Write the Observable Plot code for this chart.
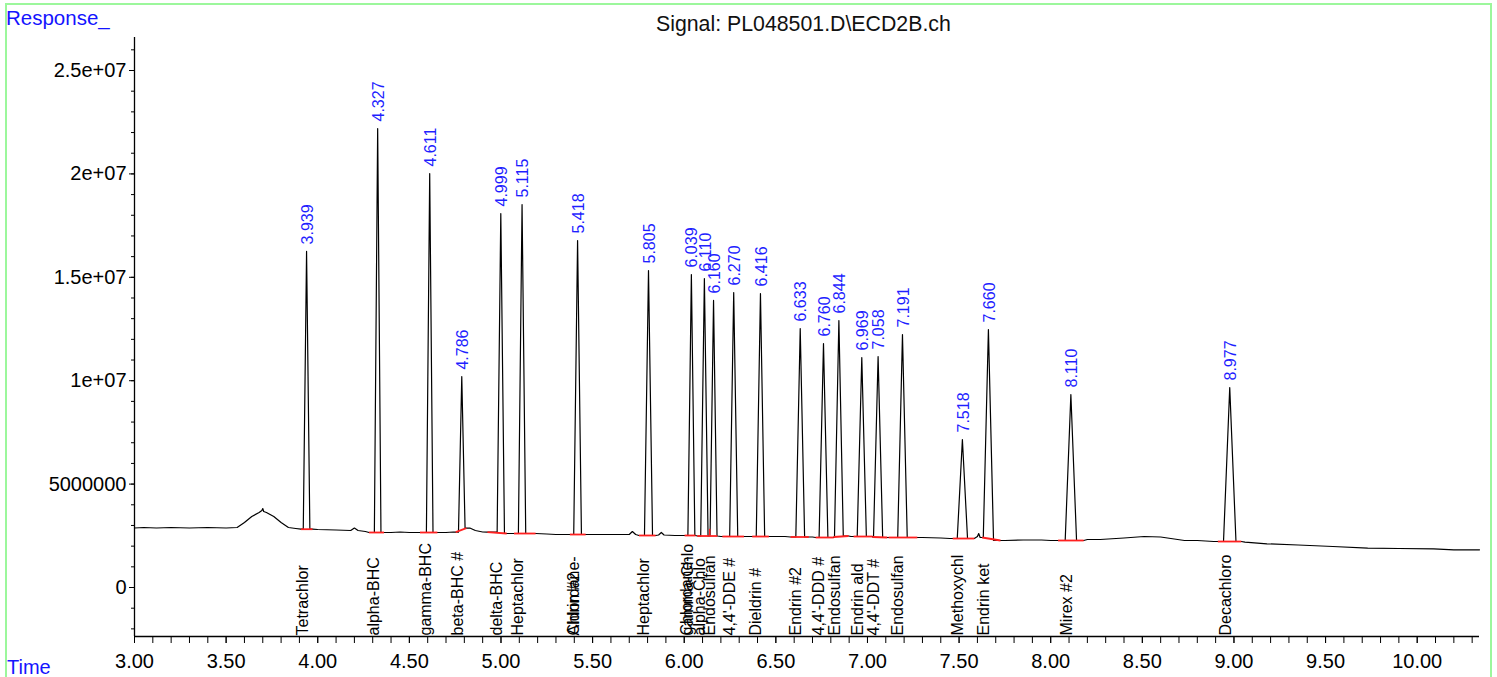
<!DOCTYPE html>
<html><head><meta charset="utf-8">
<script src="https://cdn.jsdelivr.net/npm/d3@7"></script>
<script src="https://cdn.jsdelivr.net/npm/@observablehq/plot@0.6"></script>
<style>
body{margin:0;background:#fff;font-family:Arial,"Liberation Sans",sans-serif;}
#wrap{position:relative;width:1497px;height:677px;overflow:hidden;}
#chart{position:absolute;left:0;top:0;}
#frame{position:absolute;left:5px;top:3px;width:1483px;height:700px;border:2px solid #9cf79c;border-bottom:none;z-index:2;}
.lbl{position:absolute;font-size:20px;line-height:20px;white-space:nowrap;z-index:3;}
#resp{left:6px;top:8px;color:#1414ff;font-size:20.5px;}
#time{left:7px;top:657px;color:#1414ff;}
#title{left:656px;top:14px;color:#111;font-size:21.3px;}
</style></head><body>
<div id="wrap">
  <div id="chart"></div>
  <div id="frame"></div>
  <div id="resp" class="lbl">Response_</div>
  <div id="title" class="lbl">Signal: PL048501.D\ECD2B.ch</div>
  <div id="time" class="lbl">Time</div>
</div>
<script>
// ---- data ----
const peakTimes = [3.939, 4.327, 4.611, 4.786, 4.999, 5.115, 5.418, 5.805, 6.039, 6.110, 6.160, 6.270, 6.416, 6.633, 6.760, 6.844, 6.969, 7.058, 7.191, 7.518, 7.660, 8.110, 8.977];
const peakTops = [16250000, 22195000, 20020000, 10200000, 18085000, 18520000, 16780000, 15330000, 15135000, 14940000, 13880000, 14265000, 14217000, 12524000, 11799000, 12911000, 11122000, 11170000, 12234000, 7157000, 12476000, 9333000, 9671000];
const peakHalfWidths = [0.018, 0.018, 0.018, 0.018, 0.020, 0.020, 0.021, 0.022, 0.019, 0.020, 0.019, 0.022, 0.023, 0.024, 0.024, 0.024, 0.025, 0.025, 0.026, 0.028, 0.028, 0.031, 0.034];
const redStart = [3.908, 4.280, 4.558, 4.753, 4.926, 5.071, 5.376, 5.753, 6.002, 6.071, 6.139, 6.208, 6.371, 6.580, 6.717, 6.816, 6.924, 7.028, 7.115, 7.465, 7.626, 8.040, 8.912];
const redEnd   = [3.971, 4.362, 4.653, 4.811, 5.031, 5.189, 5.462, 5.844, 6.062, 6.139, 6.181, 6.326, 6.462, 6.680, 6.816, 6.897, 7.028, 7.108, 7.272, 7.583, 7.726, 8.180, 9.040];
const redStartV = [2819000, 2660000, 2660000, 2674000, 2674000, 2611000, 2563000, 2515000, 2515000, 2490000, 2490000, 2466000, 2466000, 2442000, 2418000, 2442000, 2466000, 2442000, 2418000, 2369000, 2418000, 2273000, 2224000];
const redEndV   = [2819000, 2660000, 2660000, 2868000, 2611000, 2611000, 2563000, 2515000, 2515000, 2490000, 2490000, 2466000, 2466000, 2442000, 2418000, 2490000, 2466000, 2418000, 2418000, 2369000, 2273000, 2273000, 2224000];
const dropTimes = [6.139];
const dropFrom = [2490000];
const dropTo = [2838000];

const baseTimes = [3.00, 3.05, 3.12, 3.20, 3.30, 3.40, 3.50, 3.56, 3.60, 3.64, 3.68, 3.695, 3.70, 3.705, 3.72, 3.76, 3.80, 3.84, 3.88, 4.00, 4.10, 4.18, 4.20, 4.22, 4.26, 4.40, 4.45, 4.50, 4.70, 4.74, 4.83, 4.86, 4.90, 5.05, 5.25, 5.30, 5.50, 5.70, 5.717, 5.735, 5.86, 5.875, 5.89, 5.95, 6.20, 6.35, 6.50, 6.55, 6.70, 6.91, 7.30, 7.40, 7.45, 7.60, 7.607, 7.615, 7.75, 7.85, 7.95, 8.00, 8.20, 8.27, 8.40, 8.51, 8.60, 8.73, 8.80, 8.89, 9.06, 9.18, 9.35, 9.54, 9.73, 9.90, 10.09, 10.20, 10.34];
const baseValues = [2877000, 2901000, 2877000, 2901000, 2877000, 2901000, 2877000, 2901000, 3143000, 3433000, 3627000, 3723000, 3820000, 3675000, 3627000, 3433000, 3143000, 2901000, 2853000, 2805000, 2780000, 2756000, 2877000, 2756000, 2708000, 2660000, 2684000, 2660000, 2660000, 2684000, 2877000, 2756000, 2684000, 2611000, 2587000, 2563000, 2563000, 2563000, 2708000, 2563000, 2539000, 2660000, 2539000, 2515000, 2466000, 2466000, 2466000, 2466000, 2442000, 2466000, 2418000, 2394000, 2369000, 2466000, 2611000, 2418000, 2273000, 2297000, 2297000, 2273000, 2321000, 2321000, 2394000, 2466000, 2442000, 2273000, 2273000, 2224000, 2191000, 2113000, 2055000, 1983000, 1900000, 1886000, 1871000, 1823000, 1823000];

const compoundTimes = [3.939, 4.327, 4.611, 4.786, 4.999, 5.115, 5.418, 5.418, 5.805, 6.039, 6.045, 6.110, 6.160, 6.270, 6.416, 6.633, 6.760, 6.844, 6.969, 7.058, 7.191, 7.518, 7.660, 8.110, 8.977];
const compoundNames = ["Tetrachlor", "alpha-BHC", "gamma-BHC", "beta-BHC #", "delta-BHC", "Heptachlor", "Aldrin #2", "Chlordane-", "Heptachlor", "Chlordane-", "gamma-Chlo", "alpha-Chlo", "Endosulfan", "4,4'-DDE #", "Dieldrin #", "Endrin #2", "4,4'-DDD #", "Endosulfan", "Endrin ald", "4,4'-DDT #", "Endosulfan", "Methoxychl", "Endrin ket", "Mirex #2", "Decachloro"];

const xMajorTicks = [3.0, 3.5, 4.0, 4.5, 5.0, 5.5, 6.0, 6.5, 7.0, 7.5, 8.0, 8.5, 9.0, 9.5, 10.0];
const xMinorTicks = d3.range(30, 104).map(d => d / 10);
const yMajorTicks = [0, 5000000, 10000000, 15000000, 20000000, 25000000];
const yMinorTicks = d3.range(-2, 27).map(d => d * 1000000);

// ---- build tables ----
const peaks = peakTimes.map((t, i) => ({t, top: peakTops[i], hw: peakHalfWidths[i], r0: redStart[i], r1: redEnd[i], v0: redStartV[i], v1: redEndV[i]}));
const trace = [];
baseTimes.forEach((t, i) => {
  if (!peaks.some(p => t >= p.r0 && t <= p.r1)) trace.push({t, v: baseValues[i]});
});
peaks.forEach(p => {
  trace.push({t: p.r0, v: p.v0}, {t: p.t - p.hw, v: p.v0}, {t: p.t, v: p.top}, {t: p.t + p.hw, v: p.v1}, {t: p.r1, v: p.v1});
});
trace.forEach((d, i) => d.k = i);
trace.sort((a, b) => a.t - b.t || a.k - b.k);
const drops = dropTimes.map((t, i) => ({t, a: dropFrom[i], b: dropTo[i]}));
const compounds = compoundTimes.map((t, i) => ({t, name: compoundNames[i]}));

const fmtY = d => d === 0 ? "0" : d >= 10000000 ? (d / 10000000) + "e+07" : String(d);
const yMin = -2369000, yMax = 26596000;

const chart = Plot.plot({
  width: 1497, height: 677,
  marginLeft: 134, marginRight: 18, marginTop: 37, marginBottom: 41,
  style: {fontFamily: "Arial, 'Liberation Sans', sans-serif", background: "transparent", color: "#000"},
  x: {domain: [3, 10.34]},
  y: {domain: [yMin, yMax]},
  marks: [
    Plot.axisX({ticks: xMinorTicks, tickSize: 7, tickFormat: () => "", label: null}),
    Plot.axisX({ticks: xMajorTicks, tickSize: 7, tickPadding: 10, tickFormat: d => d.toFixed(2), fontSize: 20, label: null}),
    Plot.axisY({ticks: yMinorTicks, tickSize: 3, tickFormat: () => "", label: null}),
    Plot.axisY({ticks: yMajorTicks, tickSize: 5, tickPadding: 3, tickFormat: fmtY, fontSize: 20, label: null}),
    Plot.ruleX([3], {stroke: "#000", strokeWidth: 1.3}),
    Plot.ruleY([yMin], {stroke: "#000", strokeWidth: 1.3}),
    Plot.line(trace, {x: "t", y: "v", stroke: "#000", strokeWidth: 1.2}),
    Plot.link(peaks, {x1: "r0", y1: "v0", x2: "r1", y2: "v1", stroke: "#ff2020", strokeWidth: 1.8}),
    Plot.link(drops, {x1: "t", y1: "a", x2: "t", y2: "b", stroke: "#ff2020", strokeWidth: 1.5}),
    Plot.text(peaks, {x: "t", y: "top", text: d => d.t.toFixed(3), rotate: -90, textAnchor: "start", dy: -7, dx: 1, fill: "#1f1fff", fontSize: 16}),
    Plot.text(compounds, {x: "t", frameAnchor: "bottom", text: "name", rotate: -90, textAnchor: "start", dy: -1, dx: 1, fill: "#000", fontSize: 16})
  ]
});
document.getElementById("chart").appendChild(chart);
</script>
</body></html>
